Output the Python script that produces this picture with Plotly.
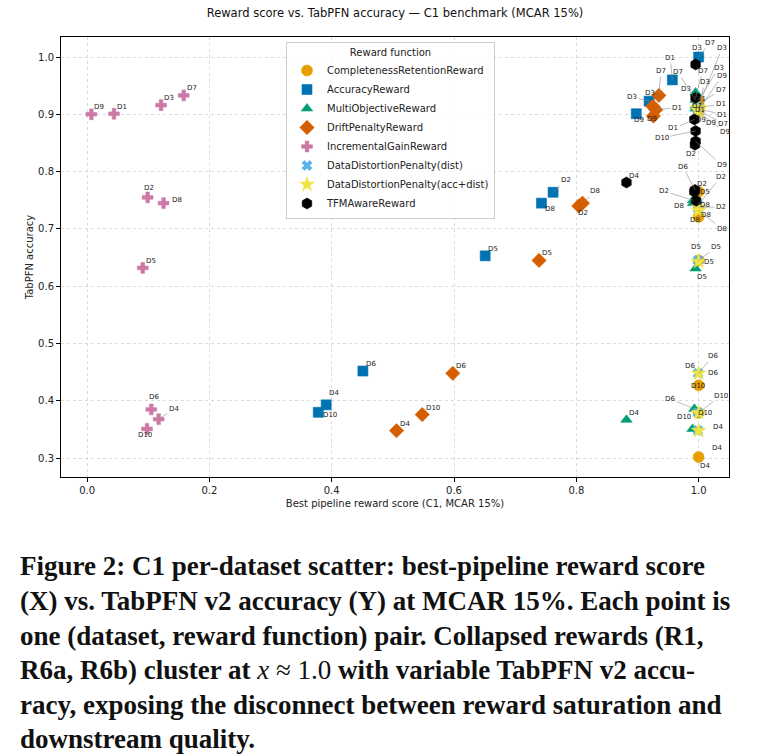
import plotly.graph_objects as go

# ---------------- data ----------------
datasets = ["D1", "D2", "D3", "D4", "D5", "D6", "D7", "D8", "D9", "D10"]

rewards = [
    "CompletenessRetentionReward",
    "AccuracyReward",
    "MultiObjectiveReward",
    "DriftPenaltyReward",
    "IncrementalGainReward",
    "DataDistortionPenalty(dist)",
    "DataDistortionPenalty(acc+dist)",
    "TFMAwareReward",
]

completeness_x = [1.000, 1.000, 1.000, 1.000, 1.000, 1.000, 1.000, 1.000, 1.000, 1.000]
completeness_y = [0.912, 0.765, 0.925, 0.302, 0.645, 0.427, 0.918, 0.721, 0.905, 0.379]

accuracy_x = [0.957, 0.762, 0.919, 0.391, 0.651, 0.451, 1.000, 0.743, 0.898, 0.378]
accuracy_y = [0.960, 0.764, 0.923, 0.393, 0.653, 0.452, 1.000, 0.745, 0.901, 0.380]

multiobj_x = [0.995, 0.991, 0.995, 0.882, 0.995, 0.993, 0.995, 0.991, 0.995, 0.990]
multiobj_y = [0.915, 0.750, 0.938, 0.367, 0.631, 0.386, 0.925, 0.745, 0.910, 0.351]

drift_x = [0.930, 0.804, 0.925, 0.506, 0.739, 0.598, 0.935, 0.810, 0.926, 0.548]
drift_y = [0.908, 0.740, 0.914, 0.348, 0.645, 0.448, 0.933, 0.745, 0.897, 0.376]

incremental_x = [0.044, 0.099, 0.121, 0.117, 0.091, 0.105, 0.158, 0.125, 0.007, 0.098]
incremental_y = [0.901, 0.755, 0.916, 0.368, 0.632, 0.385, 0.933, 0.745, 0.900, 0.351]

dist_x = [0.999, 0.999, 0.999, 0.999, 0.999, 0.999, 0.999, 0.999, 0.999, 0.999]
dist_y = [0.910, 0.742, 0.912, 0.348, 0.645, 0.448, 0.908, 0.735, 0.906, 0.379]

accdist_x = [1.000, 1.000, 1.000, 1.000, 1.000, 1.000, 1.000, 1.000, 1.000, 1.000]
accdist_y = [0.910, 0.738, 0.912, 0.348, 0.643, 0.448, 0.908, 0.732, 0.906, 0.379]

tfm_x = [0.993, 0.994, 0.995, 0.882, 0.993, 0.994, 0.995, 0.996, 0.995, 0.995]
tfm_y = [0.891, 0.847, 0.987, 0.781, 0.765, 0.768, 0.929, 0.749, 0.853, 0.871]

series_x = [completeness_x, accuracy_x, multiobj_x, drift_x, incremental_x, dist_x, accdist_x, tfm_x]
series_y = [completeness_y, accuracy_y, multiobj_y, drift_y, incremental_y, dist_y, accdist_y, tfm_y]

title_text = "Reward score vs. TabPFN accuracy — C1 benchmark (MCAR 15%)"
x_title = "Best pipeline reward score (C1, MCAR 15%)"
y_title = "TabPFN accuracy"
x_ticks = [0.0, 0.2, 0.4, 0.6, 0.8, 1.0]
y_ticks = [0.3, 0.4, 0.5, 0.6, 0.7, 0.8, 0.9, 1.0]

caption_lines = [
    "<b>Figure 2: C1 per-dataset scatter: best-pipeline reward score</b>",
    "<b>(X) vs. TabPFN v2 accuracy (Y) at MCAR 15%. Each point is</b>",
    "<b>one (dataset, reward function) pair. Collapsed rewards (R1,</b>",
    "<b>R6a, R6b) cluster at </b><i>x</i> ≈ 1.0<b> with variable TabPFN v2 accu-</b>",
    "<b>racy, exposing the disconnect between reward saturation and</b>",
    "<b>downstream quality.</b>",
]

# ---------------- styles ----------------
styles = [
    dict(symbol="circle", color="#E69F00", size=11),
    dict(symbol="square", color="#0072B2", size=10),
    dict(symbol="triangle-up", color="#009E73", size=10),
    dict(symbol="diamond", color="#D55E00", size=11),
    dict(symbol="cross", color="#CC79A7", size=9),
    dict(symbol="x", color="#56B4E9", size=9),
    dict(symbol="star", color="#F0E442", size=11),
    dict(symbol="hexagon", color="#000000", size=11),
]

# label offsets in screen pixels (dx right, dy down, leader line?)
DEFAULT_OFF = (8, -7, False)
label_off = {
    # completeness
    (0, "D1"): (22, -3, True), (0, "D3"): (20, -32, True), (0, "D7"): (22, -14, True),
    (0, "D9"): (26, 21, True), (0, "D2"): (3, -8, False), (0, "D8"): (7, -2, False),
    (0, "D5"): (-3, -13, False), (0, "D6"): (14, -12, False), (0, "D10"): (6, 0, False),
    (0, "D4"): (6, 9, False),
    # accuracy
    (1, "D2"): (13, -12, True), (1, "D8"): (9, 6, False), (1, "D4"): (8, -12, False),
    (1, "D10"): (12, 3, False), (1, "D7"): (11, -14, True), (1, "D1"): (-2, -22, True),
    (1, "D3"): (-17, -4, True), (1, "D9"): (3, 6, False),
    # multi objective
    (2, "D1"): (5, -7, False), (2, "D3"): (-10, -4, False), (2, "D7"): (-18, -28, True),
    (2, "D9"): (15, 14, True), (2, "D2"): (-29, -9, True), (2, "D8"): (-14, 3, False),
    (2, "D5"): (6, 9, False), (2, "D6"): (-24, -10, True), (2, "D10"): (-9, -12, False),
    # drift
    (3, "D2"): (4, 7, False), (3, "D8"): (13, -12, True), (3, "D10"): (11, -7, False),
    (3, "D7"): (2, -24, True), (3, "D3"): (-3, -13, False), (3, "D1"): (21, -2, True),
    (3, "D9"): (-1, 3, False),
    # incremental
    (4, "D2"): (1, -9, False), (4, "D8"): (13, -3, False), (4, "D6"): (3, -12, False),
    (4, "D4"): (15, -10, True), (4, "D10"): (-2, 6, False),
    # dist
    (5, "D1"): (24, 6, True), (5, "D3"): (24, -59, True), (5, "D7"): (25, 14, True),
    (5, "D9"): (24, -35, True), (5, "D2"): (23, -28, True), (5, "D8"): (-3, 11, False),
    (5, "D5"): (18, -13, True), (5, "D6"): (-8, -7, False), (5, "D10"): (0, -27, False),
    (5, "D4"): (20, -4, False),
    # acc+dist
    (6, "D1"): (1, 1, False), (6, "D3"): (6, -25, True), (6, "D7"): (-2, -4, False),
    (6, "D9"): (2, 9, False), (6, "D2"): (22, 0, True), (6, "D8"): (23, 18, True),
    (6, "D5"): (10, 0, False), (6, "D6"): (14, -17, True), (6, "D10"): (22, -17, True),
    (6, "D4"): (18, 17, True),
    # tfm
    (7, "D3"): (1, -16, False), (7, "D7"): (7, -27, True), (7, "D1"): (-21, 9, True),
    (7, "D10"): (-34, 7, True), (7, "D9"): (26, 24, True), (7, "D2"): (-4, 9, False),
    (7, "D5"): (11, 0, False), (7, "D6"): (-12, -23, True), (7, "D8"): (9, 4, False),
}

fig = go.Figure()
for i, name in enumerate(rewards):
    st = styles[i]
    fig.add_trace(go.Scatter(
        x=series_x[i], y=series_y[i], mode="markers", name=name,
        text=datasets,
        marker=dict(symbol=st["symbol"], color=st["color"], size=st["size"],
                    line=dict(width=0.6, color=st["color"])),
    ))

annotations = []
for i in range(len(rewards)):
    for j, d in enumerate(datasets):
        dx, dy, leader = label_off.get((i, d), DEFAULT_OFF)
        base = dict(x=series_x[i][j], y=series_y[i][j], xref="x", yref="y", text=d,
                    font=dict(family="DejaVu Sans", size=7, color="#222222"))
        if leader:
            base.update(showarrow=True, ax=dx, ay=dy, arrowhead=0, arrowwidth=0.6,
                        arrowcolor="#8c8c8c", standoff=0, startstandoff=0)
        else:
            base.update(showarrow=False, xshift=dx, yshift=-dy)
        annotations.append(base)

# caption
cap_y_px = [566, 601, 636, 670, 705, 739]
plot_top, plot_bot, plot_left, plot_w = 37, 477, 61, 668
for line, py in zip(caption_lines, cap_y_px):
    annotations.append(dict(
        text=line, xref="paper", yref="paper",
        x=(18 - plot_left) / plot_w, y=(plot_bot - py) / (plot_bot - plot_top),
        xanchor="left", yanchor="middle", showarrow=False,
        font=dict(family="Liberation Serif", size=27, color="#111111"),
    ))

all_x = [v for s in series_x for v in s]
all_y = [v for s in series_y for v in s]
xmin, xmax = min(all_x), max(all_x)
ymin, ymax = min(all_y), max(all_y)
xm = 0.05 * (xmax - xmin)
ym = 0.05 * (ymax - ymin)

axis_common = dict(
    showline=True, linecolor="black", linewidth=1, mirror=True,
    ticks="outside", ticklen=4, tickcolor="black", tickwidth=1,
    showgrid=True, gridcolor="#dadada", griddash="dot", gridwidth=0.8,
    zeroline=False, tickfont=dict(family="DejaVu Sans", size=10, color="#222"),
)

fig.update_layout(
    width=757, height=755,
    margin=dict(l=61, r=28, t=37, b=278),
    paper_bgcolor="white", plot_bgcolor="white",
    font=dict(family="DejaVu Sans", size=10, color="#222"),
    title=dict(text=title_text, x=0.5, xref="paper", y=1 - 13 / 755, yref="container",
               xanchor="center", yanchor="middle",
               font=dict(family="DejaVu Sans", size=11.5, color="#111")),
    xaxis=dict(range=[xmin - xm, xmax + xm], tickvals=x_ticks,
               ticktext=[f"{v:.1f}" for v in x_ticks],
               title=dict(text=x_title, standoff=4,
                          font=dict(family="DejaVu Sans", size=10, color="#222")),
               **axis_common),
    yaxis=dict(range=[ymin - ym, ymax + ym], tickvals=y_ticks,
               ticktext=[f"{v:.1f}" for v in y_ticks],
               title=dict(text=y_title, standoff=2,
                          font=dict(family="DejaVu Sans", size=10, color="#222")),
               **axis_common),
    legend=dict(
        x=(286 - 61) / 668, y=(477 - 42) / 440, xanchor="left", yanchor="top",
        bgcolor="rgba(255,255,255,0.85)", bordercolor="#cccccc", borderwidth=1,
        font=dict(family="DejaVu Sans", size=10, color="#222"),
        title=dict(text="Reward function", side="top center",
                   font=dict(family="DejaVu Sans", size=10, color="#222")),
        tracegroupgap=0, itemsizing="trace",
    ),
    annotations=annotations,
    showlegend=True,
)

fig.write_html("out.html")
